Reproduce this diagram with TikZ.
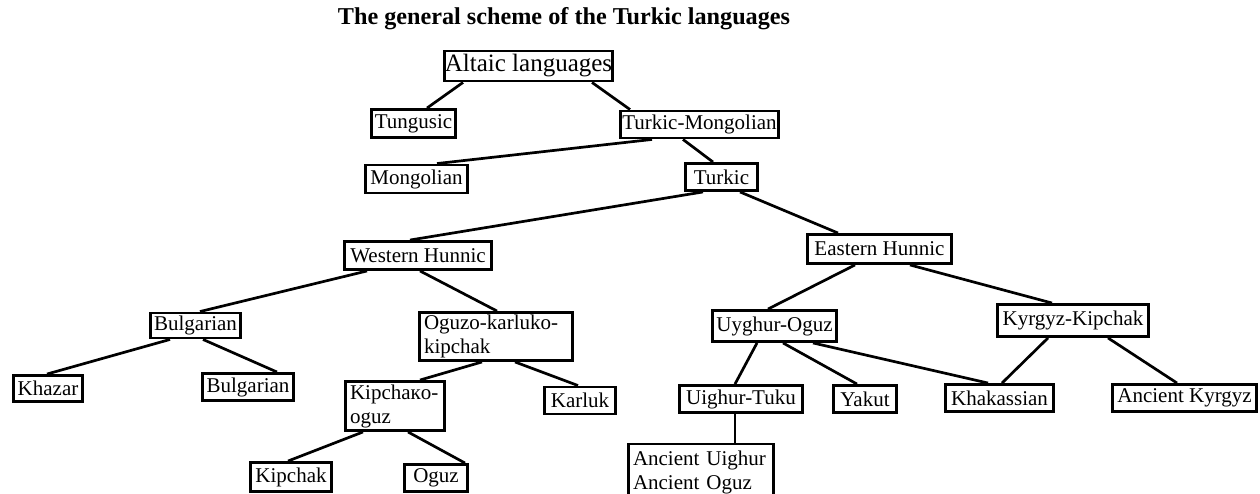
\documentclass[tikz,border=0pt]{standalone}
\usepackage{fontspec}
\setmainfont{Liberation Serif}
\tikzset{
  box/.style={draw, line width=2.9pt, inner sep=0pt, anchor=center, font=\fontsize{21}{24}\selectfont},
  mbox/.style={box, align=left, inner xsep=4.5pt},
  link/.style={line width=2.7pt},
}
\begin{document}
\begin{tikzpicture}[x=1pt, y=-1pt]
\useasboundingbox (0,0) rectangle (1260,494);
\node[font=\bfseries\fontsize{24.2}{28}\selectfont] (title) at (564,19) {The general scheme of the Turkic languages};
\node[box, minimum width=168pt, minimum height=30pt, font=\fontsize{25}{28}\selectfont] (altaic) at (528.5,66) {Altaic languages};
\node[box, minimum width=84pt, minimum height=28pt] (tung) at (413.5,123.5) {Tungusic};
\node[box, minimum width=158pt, minimum height=27pt] (tm) at (699.5,124.5) {Turkic-Mongolian};
\node[box, minimum width=102pt, minimum height=28pt] (mong) at (416.5,179) {Mongolian};
\node[box, minimum width=72pt, minimum height=27pt] (turkic) at (721.5,177) {Turkic};
\node[box, minimum width=147pt, minimum height=28pt] (wh) at (418,255.5) {Western Hunnic};
\node[box, minimum width=144pt, minimum height=29pt] (eh) at (879.5,249) {Eastern Hunnic};
\node[box, minimum width=90pt, minimum height=25pt] (bulg) at (195.5,325.5) {Bulgarian};
\node[mbox, text width=144pt, minimum height=48pt] (okk) at (496,336.5) {Oguzo-karluko-\\kipchak};
\node[box, minimum width=124pt, minimum height=31pt] (uo) at (774.5,326) {Uyghur-Oguz};
\node[box, minimum width=151pt, minimum height=32pt] (kk) at (1073,320.5) {Kyrgyz-Kipchak};
\node[box, minimum width=69pt, minimum height=26pt] (khazar) at (48,388.5) {Khazar};
\node[box, minimum width=91pt, minimum height=27pt] (bulgb) at (248,387) {Bulgarian};
\node[mbox, text width=90pt, minimum height=49pt] (ko) at (395,406) {Kipchaкo-\\oguz};
\node[box, minimum width=71pt, minimum height=27pt] (karluk) at (580,400.5) {Karluk};
\node[box, minimum width=123pt, minimum height=27pt] (ut) at (741,399) {Uighur-Tuku};
\node[box, minimum width=63pt, minimum height=27pt] (yakut) at (865,399) {Yakut};
\node[box, minimum width=108pt, minimum height=27pt] (khak) at (999.5,398) {Khakassian};
\node[box, minimum width=144pt, minimum height=27pt] (ak) at (1184.5,398) {Ancient Kyrgyz};
\node[box, minimum width=81pt, minimum height=29pt] (kipchak) at (291,477) {Kipchak};
\node[box, minimum width=63pt, minimum height=27pt] (oguz) at (436,478) {Oguz};
\node[mbox, text width=136pt, minimum height=56pt] (anc) at (701,472) {Ancient Uighur\\Ancient Oguz};
\draw[link] ([xshift=-65.5pt]altaic.south) -- ([xshift=13.5pt]tung.north);
\draw[link] ([xshift=63.5pt]altaic.south) -- ([xshift=-69.5pt]tm.north);
\draw[link] ([xshift=-47.5pt]tm.south) -- ([xshift=20.5pt]mong.north);
\draw[link] ([xshift=-16.5pt]tm.south) -- ([xshift=-8.5pt]turkic.north);
\draw[link] ([xshift=-18.5pt]turkic.south) -- ([xshift=-8pt]wh.north);
\draw[link] ([xshift=18.5pt]turkic.south) -- ([xshift=-41.5pt]eh.north);
\draw[link] ([xshift=-51pt]wh.south) -- ([xshift=4.5pt]bulg.north);
\draw[link] ([xshift=2pt]wh.south) -- ([xshift=1pt]okk.north);
\draw[link] ([xshift=-25.5pt]bulg.south) -- ([xshift=-1pt]khazar.north);
\draw[link] ([xshift=7.5pt]bulg.south) -- ([xshift=29pt]bulgb.north);
\draw[link] ([xshift=-14pt]okk.south) -- ([xshift=25pt]ko.north);
\draw[link] ([xshift=19pt]okk.south) -- ([xshift=-2pt]karluk.north);
\draw[link] ([xshift=-32pt]ko.south) -- ([xshift=-3pt]kipchak.north);
\draw[link] ([xshift=13pt]ko.south) -- ([xshift=29pt]oguz.north);
\draw[link] ([xshift=-24.5pt]eh.south) -- ([xshift=-6.5pt]uo.north);
\draw[link] ([xshift=30.5pt]eh.south) -- ([xshift=-21pt]kk.north);
\draw[link] ([xshift=-17.5pt]uo.south) -- ([xshift=-6pt]ut.north);
\draw[link] ([xshift=8.5pt]uo.south) -- ([xshift=-8pt]yakut.north);
\draw[link] ([xshift=38.5pt]uo.south) -- ([xshift=-11.5pt]khak.north);
\draw[link] ([xshift=-25pt]kk.south) -- ([xshift=2.5pt]khak.north);
\draw[link] ([xshift=35pt]kk.south) -- ([xshift=-7.5pt]ak.north);
\draw[link] ([xshift=-6pt]ut.south) -- ([xshift=34pt]anc.north);
\end{tikzpicture}
\end{document}
